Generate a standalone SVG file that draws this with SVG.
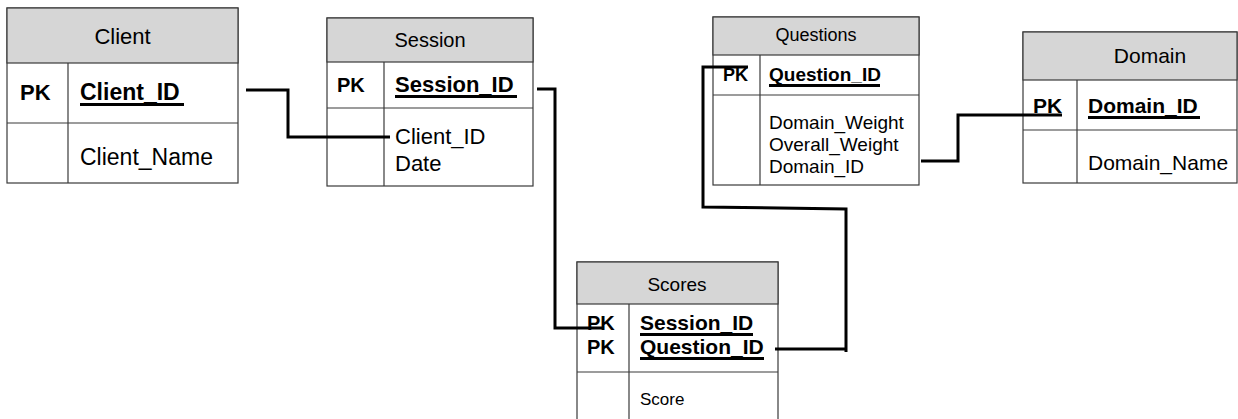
<svg xmlns="http://www.w3.org/2000/svg" width="1238" height="419" viewBox="0 0 1238 419">
  <style>
    .box { fill: #ffffff; stroke: #3a3a3a; stroke-width: 1.2; }
    .head { fill: #d6d6d6; stroke: #3a3a3a; stroke-width: 1.2; }
    .sep { stroke: #3a3a3a; stroke-width: 1.2; }
    .ul { stroke: #000000; stroke-width: 3; }
    text { font-family: "Liberation Sans", Arial, sans-serif; fill: #000000; }
    .title { text-anchor: middle; }
    .key { font-weight: bold; }
    .link { fill: none; stroke: #000000; stroke-width: 3; stroke-linejoin: miter; }
  </style>

  <rect width="1238" height="419" fill="#ffffff"/>

  <!-- Client table -->
  <g id="client">
    <rect class="box" x="7" y="8" width="231" height="175"/>
    <rect class="head" x="7" y="8" width="231" height="55"/>
    <line class="sep" x1="7" y1="123" x2="238" y2="123"/>
    <line class="sep" x1="68" y1="63" x2="68" y2="183"/>
    <text class="title" x="122.5" y="44" font-size="22">Client</text>
    <text class="key" x="20" y="100" font-size="22">PK</text>
    <text class="key" x="80" y="100" font-size="23">Client_ID</text>
    <line class="ul" x1="80" y1="104.5" x2="184" y2="104.5"/>
    <text x="80" y="165" font-size="23">Client_Name</text>
  </g>

  <!-- Session table -->
  <g id="session">
    <rect class="box" x="327" y="18" width="206" height="168"/>
    <rect class="head" x="327" y="18" width="206" height="44"/>
    <line class="sep" x1="327" y1="108" x2="533" y2="108"/>
    <line class="sep" x1="384" y1="62" x2="384" y2="186"/>
    <text class="title" x="430" y="47" font-size="20">Session</text>
    <text class="key" x="337" y="92" font-size="20">PK</text>
    <text class="key" x="395" y="92" font-size="22">Session_ID</text>
    <line class="ul" x1="395" y1="96.5" x2="517" y2="96.5"/>
    <text x="395" y="144" font-size="22">Client_ID</text>
    <text x="395" y="171" font-size="22">Date</text>
  </g>

  <!-- Questions table -->
  <g id="questions">
    <rect class="box" x="713" y="17" width="206" height="168"/>
    <rect class="head" x="713" y="17" width="206" height="38"/>
    <line class="sep" x1="713" y1="95" x2="919" y2="95"/>
    <line class="sep" x1="760" y1="55" x2="760" y2="185"/>
    <text class="title" x="816" y="41" font-size="18">Questions</text>
    <text class="key" x="723" y="81" font-size="18">PK</text>
    <text class="key" x="769" y="81" font-size="19">Question_ID</text>
    <line class="ul" x1="769" y1="85.5" x2="880" y2="85.5"/>
    <text x="769" y="129" font-size="19">Domain_Weight</text>
    <text x="769" y="151" font-size="19">Overall_Weight</text>
    <text x="769" y="173" font-size="19">Domain_ID</text>
  </g>

  <!-- Domain table -->
  <g id="domain">
    <rect class="box" x="1023" y="32" width="214" height="151"/>
    <rect class="head" x="1023" y="32" width="214" height="48"/>
    <line class="sep" x1="1023" y1="130" x2="1237" y2="130"/>
    <line class="sep" x1="1077" y1="80" x2="1077" y2="183"/>
    <text class="title" x="1150" y="63" font-size="21">Domain</text>
    <text class="key" x="1033" y="113" font-size="21">PK</text>
    <text class="key" x="1088" y="113" font-size="21">Domain_ID</text>
    <line class="ul" x1="1088" y1="117.5" x2="1200" y2="117.5"/>
    <text x="1088" y="170" font-size="21">Domain_Name</text>
  </g>

  <!-- Scores table -->
  <g id="scores">
    <rect class="box" x="577" y="262" width="201" height="170"/>
    <rect class="head" x="577" y="262" width="201" height="42"/>
    <line class="sep" x1="577" y1="372" x2="778" y2="372"/>
    <line class="sep" x1="629" y1="304" x2="629" y2="432"/>
    <text class="title" x="677" y="291" font-size="19">Scores</text>
    <text class="key" x="587" y="330" font-size="20">PK</text>
    <text class="key" x="587" y="354" font-size="20">PK</text>
    <text class="key" x="640" y="330" font-size="21">Session_ID</text>
    <line class="ul" x1="640" y1="334.5" x2="753" y2="334.5"/>
    <text class="key" x="640" y="354" font-size="21">Question_ID</text>
    <line class="ul" x1="640" y1="358.5" x2="764" y2="358.5"/>
    <text x="640" y="405" font-size="17">Score</text>
  </g>

  <!-- Relationship lines -->
  <g id="connectors">
    <path class="link" d="M246,90 H288 V137 H390"/>
    <path class="link" d="M537,89 H555 V328 H603"/>
    <path class="link" d="M748,67 H703 V207 L846,209 V352 M775,349 H846"/>
    <path class="link" d="M921,161 H958 V115 H1062"/>
  </g>
</svg>
